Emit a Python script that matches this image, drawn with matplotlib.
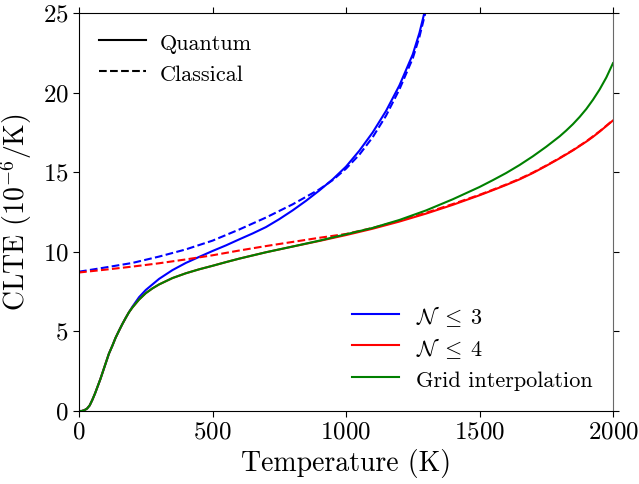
import matplotlib
matplotlib.use("Agg")
import matplotlib.pyplot as plt
from matplotlib.lines import Line2D

plt.rcParams['font.family'] = 'serif'
plt.rcParams['font.serif'] = ['cmr10']
plt.rcParams['mathtext.fontset'] = 'cm'
plt.rcParams['axes.unicode_minus'] = False
plt.rcParams['axes.formatter.use_mathtext'] = True

# Quantum curves share the low-temperature part
T_low = [0, 10, 20, 30, 40, 50, 60, 70, 80, 90, 100, 112, 125, 137, 150, 162, 175, 187]
Q_low = [0.0, 0.0, 0.05, 0.15, 0.35, 0.7, 1.1, 1.55, 2.0, 2.5, 3.0, 3.6, 4.1, 4.6, 5.05,
         5.45, 5.85, 6.2]

# Grid interpolation (quantum)
T_grid = T_low + [200, 225, 250, 275, 300, 350, 400, 450, 500, 550, 600, 700, 800, 900, 1000,
                  1100, 1200, 1300, 1400, 1500, 1550, 1600, 1650, 1700, 1750, 1800, 1825,
                  1850, 1875, 1900, 1925, 1950, 1975, 2000]
Q_grid = Q_low + [6.5, 7.0, 7.4, 7.7, 7.95, 8.35, 8.65, 8.9, 9.12, 9.35, 9.57, 9.97, 10.33,
                  10.7, 11.1, 11.5, 12.0, 12.6, 13.3, 14.07, 14.5, 14.95, 15.45, 16.0, 16.6,
                  17.25, 17.62, 18.02, 18.47, 18.97, 19.55, 20.2, 20.95, 21.85]

# N <= 4 quantum
T_n4 = T_low + [200, 225, 250, 275, 300, 350, 400, 450, 500, 550, 600, 700, 800, 900, 1000,
                1100, 1200, 1300, 1400, 1500, 1550, 1600, 1650, 1700, 1750, 1800, 1850,
                1900, 1925, 1950, 1975, 2000]
Q_n4 = Q_low + [6.5, 7.0, 7.4, 7.7, 7.95, 8.35, 8.65, 8.9, 9.12, 9.35, 9.57, 9.97, 10.33,
                10.68, 11.05, 11.45, 11.9, 12.4, 12.95, 13.55, 13.87, 14.2, 14.55, 14.95,
                15.4, 15.87, 16.37, 16.92, 17.22, 17.55, 17.9, 18.25]
# N <= 4 classical
T_n4c = [0, 100, 200, 300, 400, 500, 600, 700, 800, 900, 1000, 1100, 1200, 1300, 1400,
         1500, 1550, 1600, 1650, 1700, 1750, 1800, 1850, 1900, 1950, 2000]
C_n4 = [8.7, 8.88, 9.07, 9.28, 9.52, 9.78, 10.08, 10.36, 10.62, 10.88, 11.12, 11.5, 11.95,
        12.45, 13.0, 13.58, 13.9, 14.23, 14.58, 14.98, 15.42, 15.89, 16.39, 16.94, 17.57,
        18.27]

# N <= 3 quantum
T_n3 = T_low + [200, 225, 250, 275, 300, 350, 400, 450, 500, 550, 600, 650, 700, 750, 800,
                850, 900, 950, 1000, 1050, 1100, 1150, 1200, 1250, 1275, 1300, 1325]
Q_n3 = Q_low + [6.55, 7.15, 7.6, 7.95, 8.3, 8.85, 9.3, 9.68, 10.05, 10.4, 10.78, 11.15, 11.55,
                12.05, 12.6, 13.2, 13.85, 14.55, 15.35, 16.35, 17.5, 18.85, 20.45, 22.4, 23.75,
                25.45, 27.5]
# N <= 3 classical
T_n3c = [0, 100, 200, 300, 400, 500, 600, 700, 800, 900, 950, 1000, 1050, 1100, 1150, 1200,
         1250, 1275, 1300, 1325]
C_n3 = [8.75, 9.02, 9.3, 9.7, 10.15, 10.7, 11.4, 12.15, 12.98, 13.92, 14.5, 15.22, 16.1, 17.2,
        18.55, 20.2, 22.15, 23.5, 25.2, 27.2]

xticks = [0, 500, 1000, 1500, 2000]
yticks = [0, 5, 10, 15, 20, 25]

fig = plt.figure(figsize=(6.39, 4.84), dpi=100)
ax = fig.add_axes([79/639, 1-411/484, (613-79)/639, (411-13)/484])

lw = 1.5
ax.plot(T_n3, Q_n3, color='blue', lw=lw)
ax.plot(T_n3c, C_n3, color='blue', lw=lw, ls='--')
ax.plot(T_n4, Q_n4, color='red', lw=lw)
ax.plot(T_n4c, C_n4, color='red', lw=lw, ls='--')
ax.plot(T_grid, Q_grid, color='green', lw=lw)

ax.set_xlim(0, 2000)
ax.set_ylim(0, 25)
ax.set_xticks(xticks)
ax.set_yticks(yticks)
ax.tick_params(direction='out', length=4, labelsize=18, top=True, right=True)
ax.spines['right'].set_color('dimgray')
for t in ax.yaxis.get_ticklines()[1::2]:
    t.set_color('dimgray')

ax.set_xlabel('Temperature (K)', fontsize=20, labelpad=4)
ax.set_ylabel(r'CLTE $(10^{-6}/\mathrm{K})$', fontsize=20, labelpad=6)

h1 = [Line2D([], [], color='black', lw=lw), Line2D([], [], color='black', lw=lw, ls='--')]
leg1 = ax.legend(h1, ['Quantum', 'Classical'], loc='upper left', frameon=False,
                 fontsize=16, handlelength=2.1, handleheight=1.4, labelspacing=0.25,
                 handletextpad=0.65, bbox_to_anchor=(0.0, 1.008))
ax.add_artist(leg1)
h2 = [Line2D([], [], color='blue', lw=lw), Line2D([], [], color='red', lw=lw),
      Line2D([], [], color='green', lw=lw)]
ax.legend(h2, [r'$\mathcal{N}\;\leq\;3$', r'$\mathcal{N}\;\leq\;4$', 'Grid interpolation'],
          loc='lower right', frameon=False, fontsize=16, handlelength=2.1,
          handleheight=1.4, labelspacing=0.25, bbox_to_anchor=(1.0, -0.003))

fig.savefig('out.png', dpi=100)
